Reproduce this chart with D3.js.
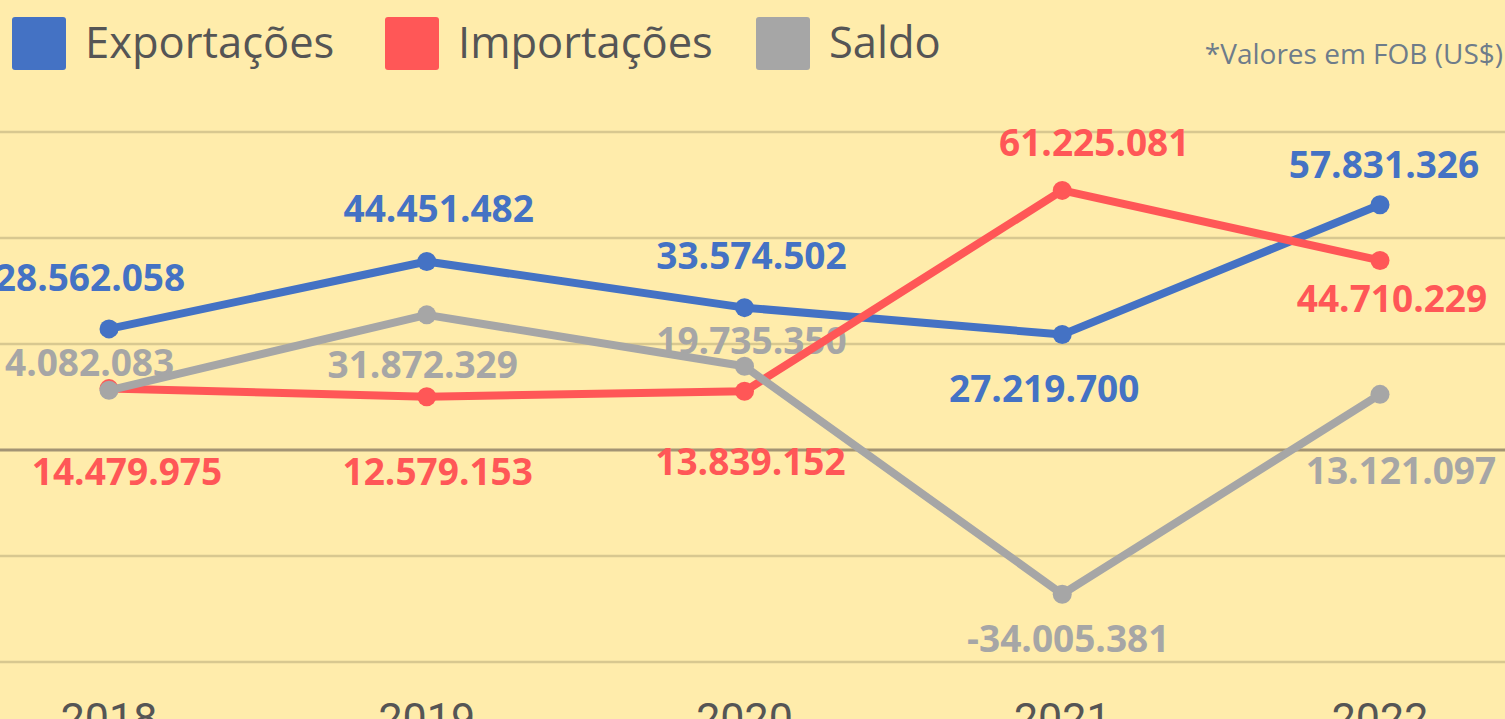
<!DOCTYPE html>
<html>
<head>
<meta charset="utf-8">
<script src="https://cdn.jsdelivr.net/npm/d3@7"></script>
<style>
  html, body { margin: 0; padding: 0; background: #FFECAB; overflow: hidden; }
  svg { display: block; }
</style>
</head>
<body>
<svg id="chart" width="1505" height="719"></svg>
<script>
// dados (US$ FOB)
const years = ["2018", "2019", "2020", "2021", "2022"];
const exportacoes = [28562058, 44451482, 33574502, 27219700, 57831326];
const importacoes = [14479975, 12579153, 13839152, 61225081, 44710229];
const saldo = [14082083, 31872329, 19735350, -34005381, 13121097];
const gridTicks = [-50000000, -25000000, 0, 25000000, 50000000, 75000000];

// posição dos rótulos (dx, baseline dy relativo ao ponto)
const expLabelPos = [[-19, -38], [12, -40], [7, -39], [-18, 67], [4, -27]];
const impLabelPos = [[18, 96], [11, 88], [6, 84], [32, -34], [12, 52]];
const saldoLabelPos = [[-30, -14], [-4, 63], [7, -12], [6, 58], [21, 90]];

const width = 1505, height = 719;
const svg = d3.select("#chart");

const x = d3.scalePoint().domain(years).range([109, 1380]);
const y = d3.scaleLinear().domain([-50000000, 75000000]).range([662, 132]);

const fmt = v => d3.format(",")(v).replace(/,/g, ".").replace("\u2212", "-");

// linhas de grade
svg.append("g")
  .selectAll("line")
  .data(gridTicks)
  .join("line")
  .attr("x1", 0).attr("x2", width)
  .attr("y1", d => y(d)).attr("y2", d => y(d))
  .attr("stroke", d => d === 0 ? "#A39474" : "#D8C890")
  .attr("stroke-width", d => d === 0 ? 3 : 2.5);

// eixo x (anos)
svg.append("g")
  .selectAll("text")
  .data(years)
  .join("text")
  .attr("x", d => x(d))
  .attr("y", 733)
  .attr("text-anchor", "middle")
  .attr("font-family", "Roboto, sans-serif")
  .attr("font-size", 43)
  .attr("fill", "#555555")
  .text(d => d);

const series = [
  { name: "Exportações", values: exportacoes, color: "#4472C4", labels: expLabelPos },
  { name: "Importações", values: importacoes, color: "#FF5757", labels: impLabelPos },
  { name: "Saldo", values: saldo, color: "#A6A6A6", labels: saldoLabelPos }
];

const line = d3.line()
  .x((d, i) => x(years[i]))
  .y(d => y(d));

// rótulos primeiro, linhas por cima
series.forEach(s => {
  svg.append("g")
    .selectAll("text")
    .data(s.values)
    .join("text")
    .attr("x", (d, i) => x(years[i]) + s.labels[i][0])
    .attr("y", (d, i) => y(d) + s.labels[i][1])
    .attr("text-anchor", "middle")
    .attr("font-family", "'Open Sans', sans-serif")
    .attr("font-weight", 700)
    .attr("font-size", 37)
    .attr("fill", s.color)
    .text(d => fmt(d));
});

series.forEach(s => {
  const g = svg.append("g");
  g.append("path")
    .datum(s.values)
    .attr("d", line)
    .attr("fill", "none")
    .attr("stroke", s.color)
    .attr("stroke-width", 8)
    .attr("stroke-linejoin", "round");
  g.selectAll("circle")
    .data(s.values)
    .join("circle")
    .attr("cx", (d, i) => x(years[i]))
    .attr("cy", d => y(d))
    .attr("r", 9.5)
    .attr("fill", s.color);
});

// legenda
const legendX = [12, 385, 756];
const legend = svg.append("g")
  .selectAll("g")
  .data(series)
  .join("g")
  .attr("transform", (d, i) => `translate(${legendX[i]},17)`);
legend.append("rect")
  .attr("width", 54).attr("height", 53)
  .attr("rx", 3)
  .attr("fill", d => d.color);
legend.append("text")
  .attr("x", 73)
  .attr("y", 41)
  .attr("font-family", "'Open Sans', sans-serif")
  .attr("font-size", 43.5)
  .attr("fill", "#555555")
  .text(d => d.name);

svg.append("text")
  .attr("x", 1503)
  .attr("y", 64)
  .attr("text-anchor", "end")
  .attr("font-family", "'Open Sans', sans-serif")
  .attr("font-size", 28)
  .attr("fill", "#6E7C8A")
  .text("*Valores em FOB (US$)");
</script>
</body>
</html>
